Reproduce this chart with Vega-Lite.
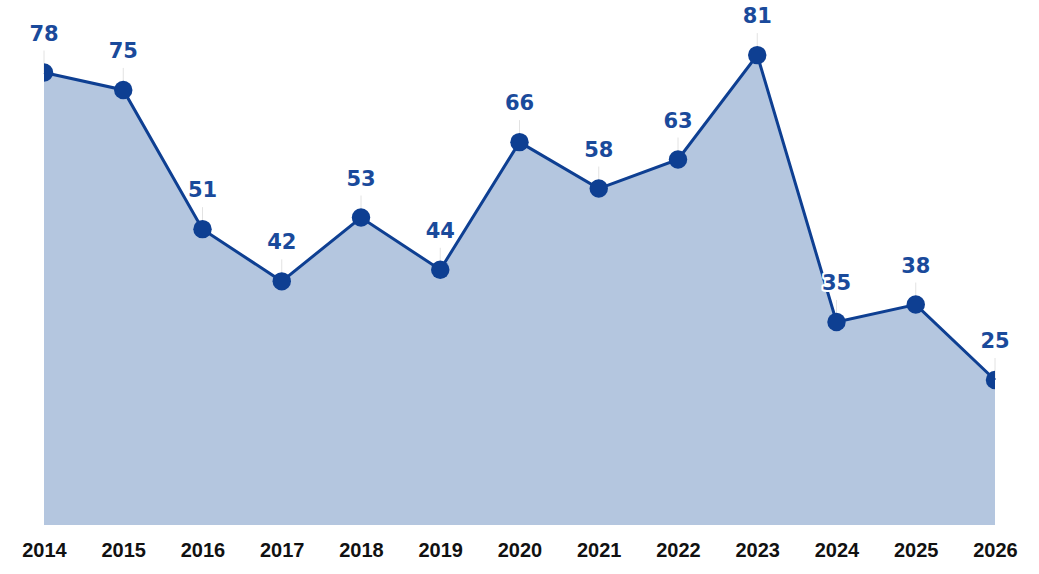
{
  "$schema": "https://vega.github.io/schema/vega-lite/v6.json",
  "width": 951,
  "height": 525,
  "autosize": {"type": "none"},
  "padding": {"left": 44, "top": 0, "right": 44, "bottom": 49},
  "background": "white",
  "config": {"view": {"stroke": null}},
  "data": {"values": [
    {"year": "2014", "value": 78},
    {"year": "2015", "value": 75},
    {"year": "2016", "value": 51},
    {"year": "2017", "value": 42},
    {"year": "2018", "value": 53},
    {"year": "2019", "value": 44},
    {"year": "2020", "value": 66},
    {"year": "2021", "value": 58},
    {"year": "2022", "value": 63},
    {"year": "2023", "value": 81},
    {"year": "2024", "value": 35},
    {"year": "2025", "value": 38},
    {"year": "2026", "value": 25}
  ]},
  "encoding": {
    "x": {"field": "year", "type": "ordinal", "scale": {"type": "point", "padding": 0},
      "axis": {"title": null, "domain": false, "ticks": false, "grid": false, "labelAngle": 0,
        "labelFont": "Liberation Sans", "labelFontWeight": "bold", "labelFontSize": 20, "labelColor": "#111111", "labelPadding": 15}},
    "y": {"field": "value", "type": "quantitative", "scale": {"domain": [0, 90.5], "nice": false}, "axis": null}
  },
  "layer": [
    {"mark": {"type": "area", "color": "#b4c6df", "opacity": 1}},
    {"mark": {"type": "rule", "color": "#e2e2e2", "strokeWidth": 1, "y2Offset": -22}, "encoding": {"y2": {"field": "value"}}},
    {"mark": {"type": "line", "color": "#0e3f92", "strokeWidth": 3}},
    {"mark": {"type": "circle", "color": "#0e3f92", "opacity": 1, "size": 340, "clip": true}},
    {"mark": {"type": "text", "dy": -38, "font": "DejaVu Sans", "fontWeight": "bold", "fontSize": 21, "stroke": "white", "strokeWidth": 4, "strokeJoin": "round", "color": "white"},
      "encoding": {"text": {"field": "value"}}},
    {"mark": {"type": "text", "dy": -38, "font": "DejaVu Sans", "fontWeight": "bold", "fontSize": 21, "color": "#1a4a9b"},
      "encoding": {"text": {"field": "value"}}}
  ]
}
